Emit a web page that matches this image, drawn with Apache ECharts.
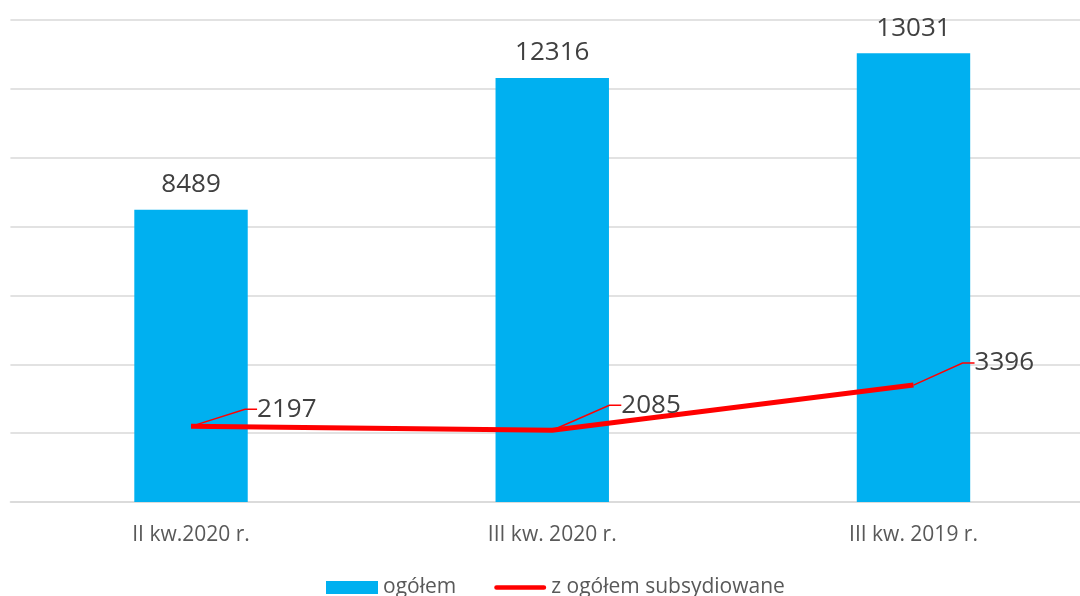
<!DOCTYPE html>
<html>
<head>
<meta charset="utf-8">
<script src="https://cdn.jsdelivr.net/npm/echarts@6/dist/echarts.min.js"></script>
<style>html,body{margin:0;padding:0;background:#fff;}#c{width:1080px;height:596px;}</style>
</head>
<body>
<div id="c"></div>
<script>
const categories = ['II kw.2020 r.', 'III kw. 2020 r.', 'III kw. 2019 r.'];
const totalValues = [8489, 12316, 13031];
const subsidizedValues = [2197, 2085, 3396];
const seriesNames = ['ogółem', 'z ogółem subsydiowane'];

// label offsets for the line labels (style only)
const lineLabelShiftX = [55, 58, 50];
const lineLabelShiftY = [-17, -25, -22];

const FONT = '"Open Sans", "Liberation Sans", sans-serif';
const chart = echarts.init(document.getElementById('c'));
chart.setOption({
  animation: false,
  textStyle: { fontFamily: FONT },
  grid: { left: 10.4, width: 1083.7, top: 20, bottom: 94, outerBoundsMode: 'none', containLabel: false },
  legend: {
    top: 577,
    left: 326,
    padding: 0,
    itemWidth: 52,
    itemHeight: 13,
    itemGap: 38,
    symbolKeepAspect: true,
    textStyle: { fontSize: 21, color: '#595959', fontFamily: FONT },
    data: [
      { name: seriesNames[0], icon: 'rect' },
      { name: seriesNames[1], icon: 'path://M2.5,0 L53.5,0 A2.5,2.5 0 0 1 53.5,5 L2.5,5 A2.5,2.5 0 0 1 2.5,0 Z', itemStyle: { color: '#FF0000' } }
    ]
  },
  xAxis: {
    type: 'category',
    data: categories,
    axisLine: { lineStyle: { color: '#d9d9d9', width: 1.5 } },
    axisTick: { show: false },
    axisLabel: { fontSize: 21, color: '#595959', margin: 23, fontFamily: FONT }
  },
  yAxis: {
    type: 'value',
    min: 0, max: 14000, interval: 2000,
    axisLabel: { show: false },
    axisLine: { show: false },
    axisTick: { show: false },
    splitLine: { lineStyle: { color: '#d9d9d9', width: 1.5 } }
  },
  series: [
    {
      name: seriesNames[0],
      type: 'bar',
      data: totalValues,
      barWidth: '31.4%',
      itemStyle: { color: '#00B0F0' },
      label: { show: true, position: 'top', distance: 12, fontSize: 26, color: '#404040', fontFamily: FONT }
    },
    {
      name: seriesNames[1],
      type: 'line',
      data: subsidizedValues,
      symbol: 'circle',
      symbolSize: 0.1,
      showSymbol: true,
      lineStyle: { color: '#FF0000', width: 5 },
      itemStyle: { color: '#FF0000' },
      label: { show: true, position: 'right', distance: 5, fontSize: 26, color: '#404040', fontFamily: FONT, padding: [0, 0, 0, 6] },
      labelLayout: function (p) {
        return { dx: lineLabelShiftX[p.dataIndex], dy: lineLabelShiftY[p.dataIndex] };
      },
      labelLine: { show: true, length2: 12, lineStyle: { color: '#FF0000', width: 1.5 } }
    }
  ]
});
</script>
</body>
</html>
